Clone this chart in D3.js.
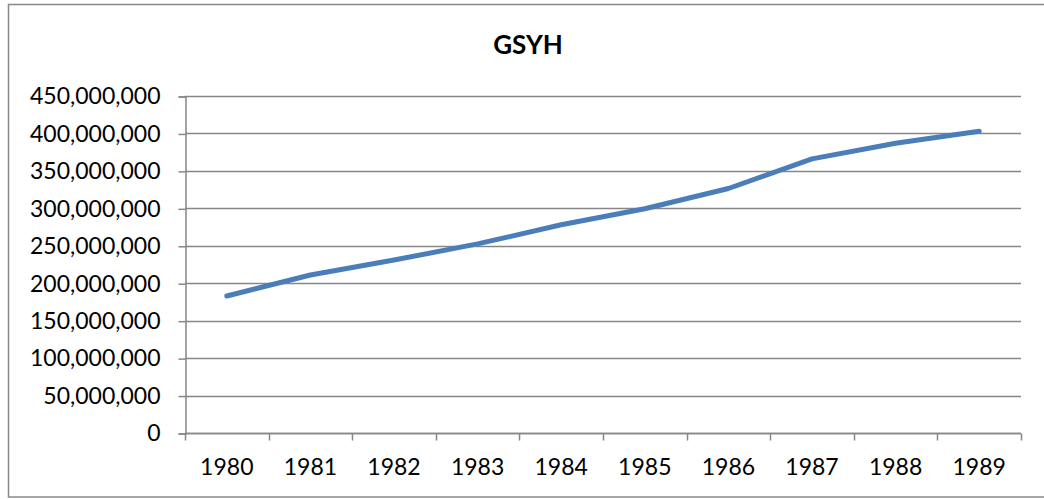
<!DOCTYPE html>
<html>
<head>
<meta charset="utf-8">
<script src="https://cdn.jsdelivr.net/npm/d3@7"></script>
<style>
  body { margin: 0; background: #fff; }
  svg text { font-family: Lato, "Open Sans", sans-serif; fill: #000; }
</style>
</head>
<body>
<svg width="1044" height="499"></svg>
<script>
// data
const years = ["1980", "1981", "1982", "1983", "1984", "1985", "1986", "1987", "1988", "1989"];
const gsyh = [183000000, 211000000, 231000000, 252500000, 278000000, 299500000, 326500000, 366000000, 387000000, 403000000];
const yTicks = [0, 50000000, 100000000, 150000000, 200000000, 250000000, 300000000, 350000000, 400000000, 450000000];

const svg = d3.select("svg");

// outer chart frame (right edge runs off the picture)
svg.append("rect")
    .attr("x", 8.5).attr("y", 4.5)
    .attr("width", 1060).attr("height", 492.5)
    .attr("fill", "none")
    .attr("stroke", "#898989")
    .attr("stroke-width", 1.5);

svg.append("text")
    .attr("x", 528)
    .attr("y", 54)
    .attr("text-anchor", "middle")
    .style("font-size", "26px")
    .style("font-weight", "bold")
    .text("GSYH");

const margin = { left: 185, top: 96, right: 1021, bottom: 433 };

const x = d3.scaleBand()
    .domain(years)
    .range([margin.left, margin.right]);

const y = d3.scaleLinear()
    .domain([0, 450000000])
    .range([margin.bottom, margin.top]);

// gridlines
svg.append("g")
    .selectAll("line")
    .data(yTicks)
    .enter()
    .append("line")
    .attr("x1", margin.left)
    .attr("x2", margin.right)
    .attr("y1", d => Math.round(y(d)) + 0.5)
    .attr("y2", d => Math.round(y(d)) + 0.5)
    .attr("stroke", "#878787")
    .attr("stroke-width", 1.5);

// y axis
const yAxis = svg.append("g")
    .attr("transform", "translate(" + (margin.left + 0.5) + ",0.5)")
    .call(d3.axisLeft(y)
        .tickValues(yTicks)
        .tickFormat(d3.format(","))
        .tickSize(7)
        .tickPadding(18));
yAxis.select(".domain").attr("stroke", "#878787").attr("stroke-width", 1.5);
yAxis.selectAll(".tick line").attr("stroke", "#878787").attr("stroke-width", 1.5);
yAxis.selectAll(".tick text")
    .style("font-size", "23px")
    .style("font-family", "Lato, sans-serif")
    .attr("fill", "#000");

// x axis, ticks between categories
const xAxis = svg.append("g")
    .attr("transform", "translate(0," + (margin.bottom + 0.5) + ")");
xAxis.append("line")
    .attr("x1", margin.left).attr("x2", margin.right)
    .attr("stroke", "#878787").attr("stroke-width", 1.5);
xAxis.selectAll(".xtick")
    .data(years.concat(["end"]))
    .enter()
    .append("line")
    .attr("x1", (d, i) => Math.round(margin.left + i * x.step()) + 0.5)
    .attr("x2", (d, i) => Math.round(margin.left + i * x.step()) + 0.5)
    .attr("y1", 0).attr("y2", 7)
    .attr("stroke", "#878787").attr("stroke-width", 1.5);
xAxis.selectAll(".xlabel")
    .data(years)
    .enter()
    .append("text")
    .attr("x", d => x(d) + x.bandwidth() / 2)
    .attr("y", 41)
    .attr("text-anchor", "middle")
    .style("font-size", "23px")
    .text(d => d);

// series line
const line = d3.line()
    .x((d, i) => x(years[i]) + x.bandwidth() / 2)
    .y(d => y(d));

svg.append("path")
    .datum(gsyh)
    .attr("d", line)
    .attr("fill", "none")
    .attr("stroke", "#4a7ebb")
    .attr("stroke-width", 5)
    .attr("stroke-linecap", "round")
    .attr("stroke-linejoin", "round");
</script>
</body>
</html>
